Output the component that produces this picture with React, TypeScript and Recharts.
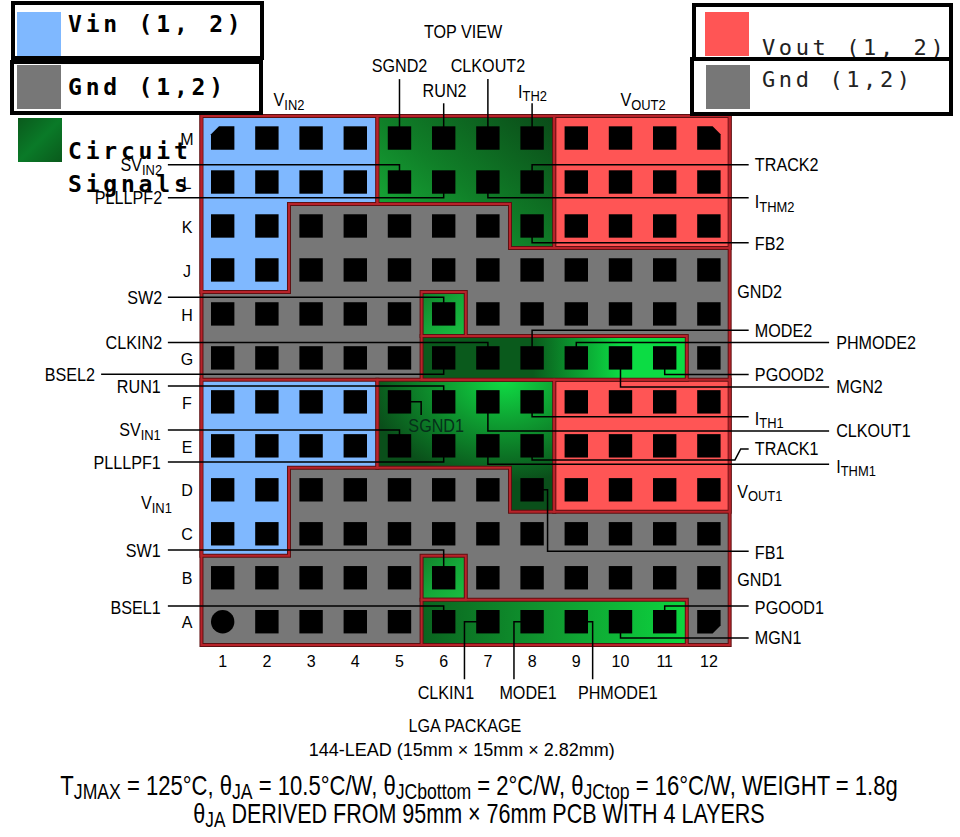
import { ScatterChart, Scatter, XAxis, YAxis } from "recharts";

const rowLabels = ["A", "B", "C", "D", "E", "F", "G", "H", "J", "K", "L", "M"];
const colLabels = ["1", "2", "3", "4", "5", "6", "7", "8", "9", "10", "11", "12"];
const rowTicks = rowLabels.map((_, i) => i + 1);
const colTicks = colLabels.map((_, i) => i + 1);
const cornerPins: Record<string, string> = { "1-1": "circle", "12-1": "tl", "12-12": "tr", "1-12": "br" };

type P = [number, number];

const outline: P[] = [[0.52, 12.5], [12.47, 12.5], [12.47, 0.47], [0.52, 0.47]];
const vin2: P[] = [[0.52, 12.5], [4.5, 12.5], [4.5, 10.5], [2.5, 10.5], [2.5, 8.5], [0.52, 8.5]];
const vin1: P[] = [[0.52, 6.5], [4.5, 6.5], [4.5, 4.5], [2.5, 4.5], [2.5, 2.5], [0.52, 2.5]];
const vout2: P[] = [[8.5, 12.5], [12.47, 12.5], [12.47, 9.5], [8.5, 9.5]];
const vout1: P[] = [[8.5, 6.5], [12.47, 6.5], [12.47, 3.5], [8.5, 3.5]];
const signals2: P[] = [[4.5, 12.5], [8.5, 12.5], [8.5, 9.5], [7.5, 9.5], [7.5, 10.5], [4.5, 10.5]];
const signals1: P[] = [[4.5, 6.5], [8.5, 6.5], [8.5, 3.5], [7.5, 3.5], [7.5, 4.5], [4.5, 4.5]];
const sw2Pad: P[] = [[5.5, 8.5], [6.5, 8.5], [6.5, 7.5], [5.5, 7.5]];
const sw1Pad: P[] = [[5.5, 2.5], [6.5, 2.5], [6.5, 1.5], [5.5, 1.5]];
const bandG: P[] = [[5.5, 7.5], [11.5, 7.5], [11.5, 6.5], [5.5, 6.5]];
const bandA: P[] = [[5.5, 1.5], [11.5, 1.5], [11.5, 0.47], [5.5, 0.47]];

const regions: { pts: P[]; fill: string }[] = [
  { pts: outline, fill: "#777777" },
  { pts: vin2, fill: "#7fb8ff" },
  { pts: vin1, fill: "#7fb8ff" },
  { pts: vout2, fill: "#ff5555" },
  { pts: vout1, fill: "#ff5555" },
  { pts: signals2, fill: "url(#sig2)" },
  { pts: signals1, fill: "url(#sig1)" },
  { pts: sw2Pad, fill: "url(#pad)" },
  { pts: sw1Pad, fill: "url(#pad)" },
  { pts: bandG, fill: "url(#bandG)" },
  { pts: bandA, fill: "url(#bandA)" },
];

const leaders: P[][] = [
  [[5, 13.34], [5, 12]],
  [[6, 12.79], [6, 12]],
  [[7, 13.34], [7, 12]],
  [[8, 12.79], [8, 12]],
  [[-0.24, 11.39], [5, 11.39], [5, 11]],
  [[-0.24, 10.64], [6, 10.64], [6, 11]],
  [[8, 11], [8, 11.39], [12.9, 11.39]],
  [[7, 11], [7, 10.64], [12.9, 10.64]],
  [[8, 10], [8, 9.62], [12.9, 9.62]],
  [[-0.24, 8.38], [6, 8.38], [6, 8]],
  [[-0.24, 7.35], [7, 7.35], [7, 7]],
  [[-1.75, 6.63], [6, 6.63], [6, 7]],
  [[-0.24, 6.36], [6, 6.36], [6, 6]],
  [[5, 6], [5.49, 6], [5.49, 5.7]],
  [[-0.24, 5.36], [5, 5.36], [5, 5]],
  [[-0.24, 4.63], [6, 4.63], [6, 5]],
  [[-0.24, 2.63], [6, 2.63], [6, 2]],
  [[-0.24, 1.36], [6, 1.36], [6, 1]],
  [[6.47, -0.31], [6.47, 1], [7, 1]],
  [[7.59, -0.31], [7.59, 1], [8, 1]],
  [[9.37, -0.31], [9.37, 1], [9, 1]],
  [[11, 1], [11, 1.36], [12.9, 1.36]],
  [[10, 1], [10, 0.63], [12.9, 0.63]],
  [[8, 4], [8.35, 4], [8.35, 2.6], [12.9, 2.6]],
  [[8, 7], [8, 7.63], [12.9, 7.63]],
  [[9, 7], [9, 7.35], [14.72, 7.35]],
  [[11, 7], [11, 6.62], [12.9, 6.62]],
  [[10, 7], [10, 6.34], [14.72, 6.34]],
  [[8, 6], [8, 5.66], [12.9, 5.66]],
  [[7, 6], [7, 5.34], [14.72, 5.34]],
  [[8, 5], [8, 4.68], [12.59, 4.68], [12.72, 4.93], [12.9, 4.93]],
  [[7, 5], [7, 4.58], [14.72, 4.58]],
];

// text, column, row, anchor; "|" toggles subscript
type Note = { text: string; x: number; y: number; anchor: string };
const n = (text: string, x: number, y: number, anchor = "middle"): Note => ({ text, x, y, anchor });

const pinNames: Note[] = [
  n("TOP VIEW", 6.44, 14.43),
  n("SGND2", 5, 13.64),
  n("CLKOUT2", 7, 13.64),
  n("RUN2", 6.02, 13.09),
  n("I|TH2", 8.01, 13.06),
  n("V|IN2", 2.5, 12.87),
  n("V|OUT2", 10.51, 12.87),
  n("SV|IN2", -0.37, 11.39, "end"),
  n("PLLLPF2", -0.37, 10.64, "end"),
  n("SW2", -0.37, 8.38, "end"),
  n("CLKIN2", -0.37, 7.36, "end"),
  n("BSEL2", -1.89, 6.63, "end"),
  n("RUN1", -0.4, 6.34, "end"),
  n("SV|IN1", -0.4, 5.36, "end"),
  n("PLLLPF1", -0.4, 4.63, "end"),
  n("V|IN1", -0.15, 3.7, "end"),
  n("SW1", -0.4, 2.63, "end"),
  n("BSEL1", -0.4, 1.33, "end"),
  n("TRACK2", 13.04, 11.39, "start"),
  n("I|THM2", 13.04, 10.55, "start"),
  n("FB2", 13.04, 9.61, "start"),
  n("GND2", 12.64, 8.5, "start"),
  n("MODE2", 13.04, 7.63, "start"),
  n("PHMODE2", 14.88, 7.36, "start"),
  n("PGOOD2", 13.04, 6.63, "start"),
  n("MGN2", 14.88, 6.34, "start"),
  n("I|TH1", 13.04, 5.63, "start"),
  n("CLKOUT1", 14.88, 5.34, "start"),
  n("TRACK1", 13.04, 4.93, "start"),
  n("I|THM1", 14.88, 4.54, "start"),
  n("V|OUT1", 12.64, 3.97, "start"),
  n("FB1", 13.04, 2.58, "start"),
  n("GND1", 12.64, 1.95, "start"),
  n("PGOOD1", 13.04, 1.33, "start"),
  n("MGN1", 13.04, 0.63, "start"),
  n("CLKIN1", 6.05, -0.6),
  n("MODE1", 7.91, -0.6),
  n("PHMODE1", 9.94, -0.6),
  n("LGA PACKAGE", 6.48, -1.37),
];
const leadNote: Note[] = [n("144-LEAD (15mm × 15mm × 2.82mm)", 6.41, -1.9)];
const sgndNote: Note[] = [n("SGND1", 5.83, 5.47)];
const thermalNote: Note[] = [
  n("T|JMAX| = 125°C, θ|JA| = 10.5°C/W, θ|JCbottom| = 2°C/W, θ|JCtop| = 16°C/W, WEIGHT = 1.8g", 6.8, -2.71),
];
const pcbNote: Note[] = [n("θ|JA| DERIVED FROM 95mm × 76mm PCB WITH 4 LAYERS", 6.8, -3.35)];

const pins = rowTicks.flatMap((y) => colTicks.map((x) => ({ x, y, kind: cornerPins[`${y}-${x}`] })));

const FONT = '"Liberation Sans", sans-serif';
const toPoints = (pts: P[]) => pts.map(([x, y]) => ({ x, y }));
const closed = (pts: P[]) => toPoints([...pts, pts[0], pts[1]]);
const noMark = () => null;

function PinMark(props: any) {
  const { cx, cy, payload } = props;
  const h = 11.7;
  const c = 8;
  const l = cx - h;
  const r = cx + h;
  const t = cy - h;
  const b = cy + h;
  if (payload.kind === "circle") return <circle cx={cx} cy={cy} r={h} fill="#000" />;
  let d = `M${l} ${t}H${r}V${b}H${l}Z`;
  if (payload.kind === "tl") d = `M${l + c} ${t}H${r}V${b}H${l}V${t + c}Z`;
  if (payload.kind === "tr") d = `M${l} ${t}H${r - c}L${r} ${t + c}V${b}H${l}Z`;
  if (payload.kind === "br") d = `M${l} ${t}H${r}V${b - c}L${r - c} ${b}H${l}Z`;
  return <path d={d} fill="#000" />;
}

// the reference uses a condensed face, so squeeze the text horizontally
function textMark(size: number, squeeze: number, color = "#000") {
  return function TextMark(props: any) {
    const { cx, cy, payload } = props;
    const parts: string[] = payload.text.split("|");
    const drop = size * 0.24;
    return (
      <text
        transform={`translate(${cx} ${cy}) scale(${squeeze} 1)`}
        textAnchor={payload.anchor}
        dominantBaseline="central"
        fontFamily={FONT}
        fontSize={size}
        fill={color}
      >
        {parts.map((part, i) => {
          const sub = i % 2 === 1;
          const dy = sub ? drop : i > 0 ? -drop : 0;
          return (
            <tspan key={i} dy={dy} fontSize={sub ? size * 0.8 : size}>
              {part}
            </tspan>
          );
        })}
      </text>
    );
  };
}

const monoBold = { fontFamily: '"DejaVu Sans Mono", monospace', fontWeight: 700, fontSize: 23, letterSpacing: 3.8, whiteSpace: "pre", position: "absolute", lineHeight: "26px", color: "#000" } as const;
const monoThin = { ...monoBold, fontWeight: 400, fontSize: 22, letterSpacing: 3.6, color: "#222" } as const;
const boxStyle = (left: number, top: number, width: number, height: number) =>
  ({ position: "absolute", left, top, width, height, border: "4px solid #000", background: "#fff", boxSizing: "border-box", overflow: "hidden" }) as const;
const swatch = (left: number, top: number, background: string) =>
  ({ position: "absolute", left, top, width: 44, height: 44, background }) as const;

export default function App() {
  return (
    <div style={{ position: "absolute", left: 0, top: 0, width: 960, height: 837, background: "#fff", overflow: "hidden" }}>
      <ScatterChart width={960} height={837} margin={{ top: 0, right: 0, bottom: 0, left: 0 }}>
        <defs>
          <linearGradient id="sig2" x1="1" y1="0" x2="0" y2="0.9">
            <stop offset="0" stopColor="#0a4a18" />
            <stop offset="0.55" stopColor="#107f28" />
            <stop offset="1" stopColor="#18b23a" />
          </linearGradient>
          <radialGradient id="sig1" cx="0.72" cy="0" r="0.78">
            <stop offset="0" stopColor="#0fdc44" />
            <stop offset="0.45" stopColor="#0e9a30" />
            <stop offset="1" stopColor="#0a4f1a" />
          </radialGradient>
          <linearGradient id="pad" x1="0" y1="0" x2="1" y2="1">
            <stop offset="0" stopColor="#127f2c" />
            <stop offset="0.5" stopColor="#14a838" />
            <stop offset="1" stopColor="#1abf42" />
          </linearGradient>
          <linearGradient id="bandG" x1="0" y1="0" x2="1" y2="0">
            <stop offset="0" stopColor="#0a5a1c" />
            <stop offset="0.42" stopColor="#0a5a1c" />
            <stop offset="0.75" stopColor="#0cdc44" />
            <stop offset="1" stopColor="#0cdc44" />
          </linearGradient>
          <linearGradient id="bandA" x1="0" y1="0" x2="1" y2="0">
            <stop offset="0" stopColor="#0a641f" />
            <stop offset="0.5" stopColor="#109a30" />
            <stop offset="1" stopColor="#0cd63f" />
          </linearGradient>
        </defs>
        <XAxis
          type="number"
          dataKey="x"
          domain={[-4.038, 17.681]}
          ticks={colTicks}
          interval={0}
          mirror
          axisLine={false}
          tickLine={false}
          tick={{ fontFamily: FONT, fontSize: 16, fill: "#000", dy: -162 }}
          tickFormatter={(v: number) => colLabels[v - 1]}
        />
        <YAxis
          type="number"
          dataKey="y"
          domain={[-3.896, 15.139]}
          ticks={rowTicks}
          interval={0}
          mirror
          axisLine={false}
          tickLine={false}
          tick={{ fontFamily: FONT, fontSize: 16, fill: "#000", dx: 179, dy: 1, textAnchor: "middle" }}
          tickFormatter={(v: number) => rowLabels[v - 1]}
        />
        {regions.map((reg, i) => (
          <Scatter
            key={`fill${i}`}
            data={closed(reg.pts)}
            shape={noMark}
            line={{ fill: reg.fill, stroke: "#5f1012", strokeWidth: 4 }}
            isAnimationActive={false}
          />
        ))}
        {regions.map((reg, i) => (
          <Scatter
            key={`edge${i}`}
            data={closed(reg.pts)}
            shape={noMark}
            line={{ fill: "none", stroke: "#b8232a", strokeWidth: 2 }}
            isAnimationActive={false}
          />
        ))}
        <Scatter data={pins} shape={PinMark} isAnimationActive={false} />
        {leaders.map((path, i) => (
          <Scatter
            key={`lead${i}`}
            data={toPoints(path)}
            shape={noMark}
            line={{ fill: "none", stroke: "#000", strokeWidth: 1.5 }}
            isAnimationActive={false}
          />
        ))}
        <Scatter data={pinNames} shape={textMark(19, 0.85)} isAnimationActive={false} />
        <Scatter data={leadNote} shape={textMark(19, 0.947)} isAnimationActive={false} />
        <Scatter data={sgndNote} shape={textMark(19, 0.85, "#06301a")} isAnimationActive={false} />
        <Scatter data={thermalNote} shape={textMark(27, 0.817)} isAnimationActive={false} />
        <Scatter data={pcbNote} shape={textMark(27, 0.797)} isAnimationActive={false} />
      </ScatterChart>

      <div style={boxStyle(11, 1, 253, 59)}>
        <div style={swatch(2, 7, "#7fb8ff")} />
        <div style={{ ...monoBold, left: 53, top: 6 }}>Vin (1, 2)</div>
      </div>
      <div style={boxStyle(10, 60, 253, 55)}>
        <div style={swatch(3, 1, "#777777")} />
        <div style={{ ...monoBold, left: 54, top: 10 }}>Gnd (1,2)</div>
      </div>
      <div style={swatch(18, 118, "linear-gradient(135deg, #0a5a1c, #0a7a28 50%, #0a5a1c)")} />
      <div style={{ ...monoBold, left: 68, top: 138 }}>Circuit</div>
      <div style={{ ...monoBold, left: 68, top: 171 }}>Signals</div>

      <div style={boxStyle(692, 3, 261, 58)}>
        <div style={swatch(9, 5, "#ff5555")} />
        <div style={{ ...monoThin, left: 66, top: 28 }}>Vout (1, 2)</div>
      </div>
      <div style={boxStyle(690, 57, 263, 59)}>
        <div style={swatch(12, 4, "#777777")} />
        <div style={{ ...monoThin, left: 68, top: 6 }}>Gnd (1,2)</div>
      </div>
    </div>
  );
}
